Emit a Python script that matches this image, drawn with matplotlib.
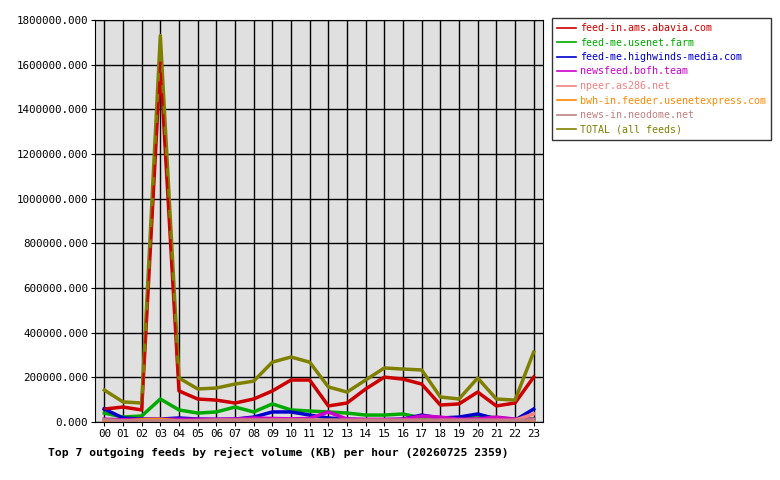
import matplotlib
matplotlib.use("Agg")
import matplotlib.pyplot as plt

hours = ["%02d" % h for h in range(24)]

total = [143e3, 90e3, 85e3, 1730e3, 197e3, 148e3, 152e3, 170e3, 183e3, 268e3, 291e3, 268e3,
         157e3, 134e3, 188e3, 242e3, 237e3, 233e3, 112e3, 103e3, 197e3, 103e3, 98e3, 313e3]
abavia = [58e3, 67e3, 54e3, 1610e3, 139e3, 103e3, 98e3, 85e3, 103e3, 139e3, 188e3, 188e3,
          72e3, 85e3, 148e3, 201e3, 192e3, 170e3, 76e3, 81e3, 134e3, 72e3, 85e3, 201e3]
usenet_farm = [40e3, 22e3, 27e3, 103e3, 54e3, 40e3, 45e3, 67e3, 45e3, 81e3, 54e3, 49e3,
               45e3, 40e3, 31e3, 31e3, 36e3, 18e3, 18e3, 13e3, 31e3, 18e3, 13e3, 13e3]
highwinds = [58e3, 18e3, 13e3, 13e3, 18e3, 13e3, 12e3, 13e3, 22e3, 45e3, 45e3, 31e3,
             18e3, 13e3, 10e3, 10e3, 13e3, 31e3, 18e3, 22e3, 36e3, 13e3, 8e3, 58e3]
bofh = [13e3, 10e3, 12e3, 12e3, 12e3, 12e3, 12e3, 13e3, 18e3, 16e3, 14e3, 16e3,
        45e3, 13e3, 12e3, 12e3, 12e3, 27e3, 22e3, 12e3, 14e3, 22e3, 13e3, 12e3]
as286 = [5e3, 4e3, 4e3, 5e3, 5e3, 6e3, 8e3, 8e3, 8e3, 8e3, 8e3, 8e3,
         8e3, 8e3, 8e3, 8e3, 8e3, 8e3, 8e3, 8e3, 8e3, 8e3, 8e3, 36e3]
usenetexpress = [4e3, 4e3, 10e3, 12e3, 5e3, 4e3, 4e3, 4e3, 4e3, 4e3, 4e3, 4e3,
                 4e3, 4e3, 4e3, 4e3, 4e3, 4e3, 4e3, 4e3, 4e3, 4e3, 4e3, 4e3]
neodome = [10e3, 6e3, 6e3, 6e3, 6e3, 6e3, 8e3, 8e3, 8e3, 8e3, 8e3, 8e3,
           8e3, 6e3, 6e3, 6e3, 6e3, 6e3, 6e3, 6e3, 6e3, 6e3, 6e3, 10e3]

series = [
    ("feed-in.ams.abavia.com", abavia, "#cc0000"),
    ("feed-me.usenet.farm", usenet_farm, "#00aa00"),
    ("feed-me.highwinds-media.com", highwinds, "#0000cc"),
    ("newsfeed.bofh.team", bofh, "#cc00cc"),
    ("npeer.as286.net", as286, "#f08080"),
    ("bwh-in.feeder.usenetexpress.com", usenetexpress, "#ff8800"),
    ("news-in.neodome.net", neodome, "#c08080"),
    ("TOTAL (all feeds)", total, "#808000"),
]

plt.rcParams["font.family"] = "DejaVu Sans Mono"
fig = plt.figure(figsize=(7.8, 4.8), dpi=100)
ax = fig.add_axes([95 / 780, 58 / 480, 448 / 780, 402 / 480])
ax.set_facecolor("#e0e0e0")
x = list(range(24))
for name, vals, col in series:
    ax.plot(x, vals, color=col, lw=2.5, label=name)
ax.plot(x, abavia, color="#cc0000", lw=1.5, dashes=(6, 4))

ax.set_xlim(-0.5, 23.5)
ax.set_ylim(0, 1800000)
ax.set_xticks(x)
ax.set_xticklabels(hours, fontsize=7.8)
yt = list(range(0, 1800001, 200000))
ax.set_yticks(yt)
ax.set_yticklabels(["%d.000" % v for v in yt], fontsize=7.8)
ax.tick_params(length=3, pad=2, color="black")
ax.grid(True, color="black", lw=1)
ax.set_axisbelow(True)
for s in ax.spines.values():
    s.set_color("black")

leg = fig.legend(loc="upper left", bbox_to_anchor=(552 / 780, 1 - 18 / 480), fontsize=7.2,
                 frameon=True, fancybox=False, edgecolor="black", handlelength=1.9,
                 borderpad=0.5, labelspacing=0.45, handletextpad=0.4, borderaxespad=0)
leg.get_frame().set_linewidth(1)
for line, text in zip(leg.get_lines(), leg.get_texts()):
    line.set_linewidth(1.2)
    text.set_color(line.get_color())

fig.text(48 / 780, 1 - 452 / 480, "Top 7 outgoing feeds by reject volume (KB) per hour (20260725 2359)",
         fontsize=8.2, fontweight="bold", va="center")
fig.savefig("out.png", dpi=100)
